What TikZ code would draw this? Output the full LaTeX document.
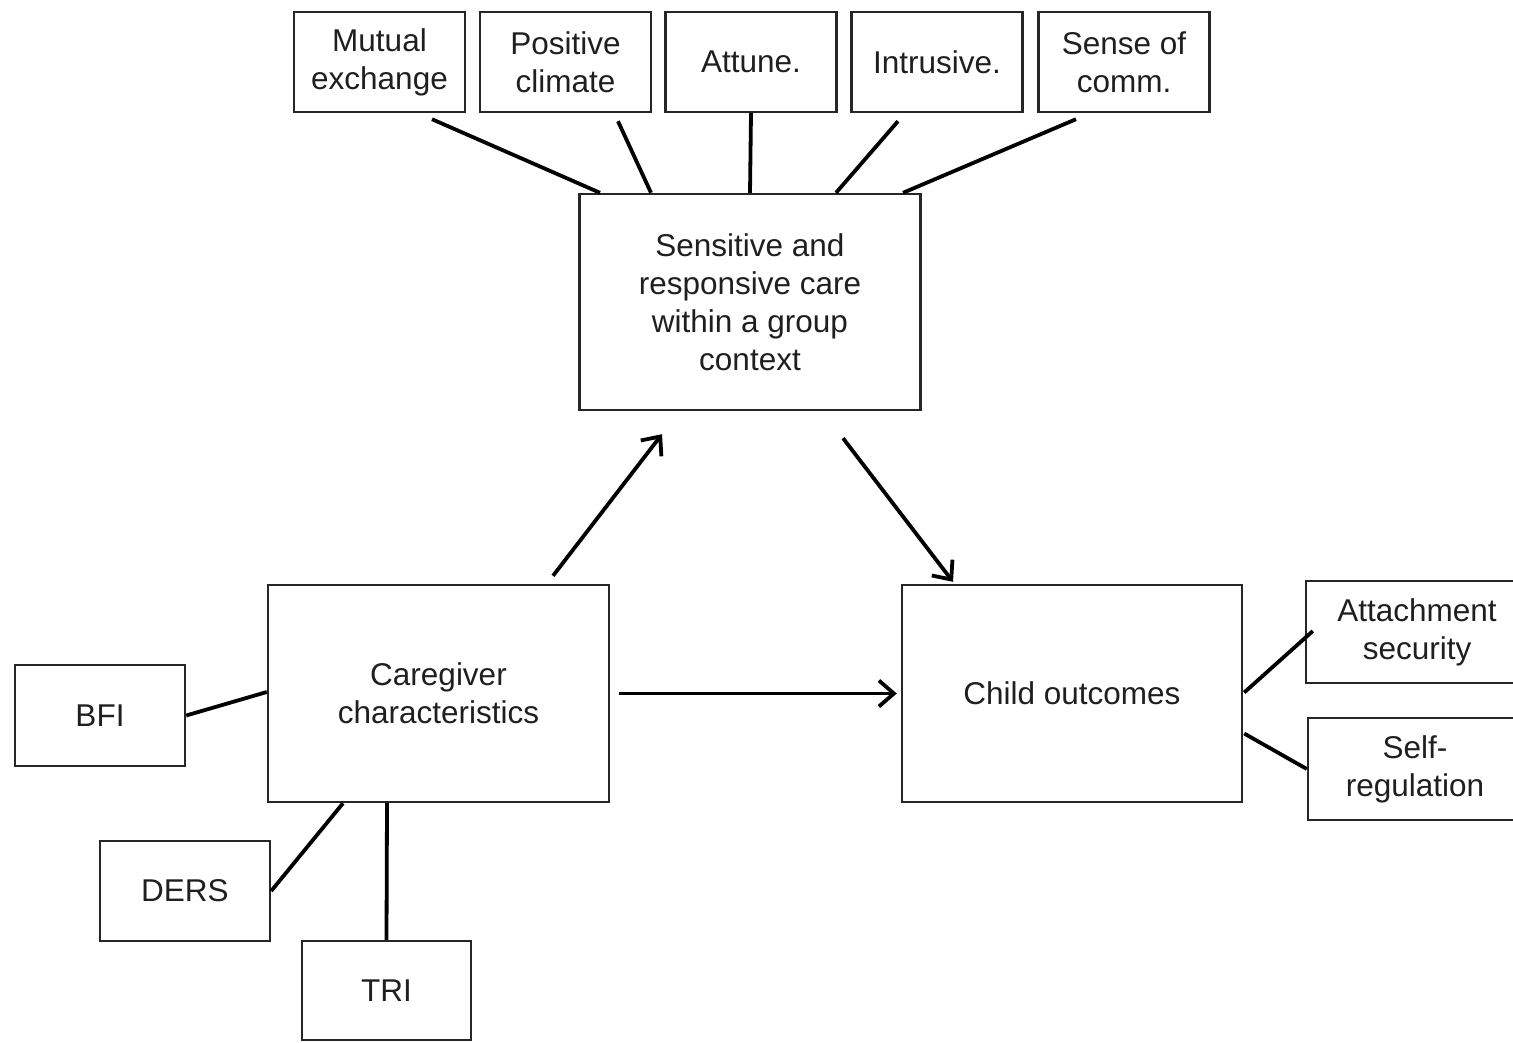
\documentclass[tikz,border=0pt]{standalone}
\usepackage{fontspec}
\setmainfont{Liberation Sans}
\usetikzlibrary{arrows.meta}
\tikzset{
  box/.style={draw=black!85, line width=2.4pt, inner sep=0pt, align=center,
    font=\fontsize{31.5}{38}\selectfont, text=black!88},
  small/.style={box, minimum width=171pt, minimum height=100pt},
  big/.style={box, minimum width=341pt, minimum height=217pt},
  link/.style={line width=3.8pt, black},
  arr/.style={line width=3.8pt, black, -{Straight Barb[length=15pt,width=26pt,line width=3.8pt]}}
}
\begin{document}
\begin{tikzpicture}[x=1pt,y=-1pt]
\useasboundingbox (0,0) rectangle (1513,1042);
\clip (0,0) rectangle (1513,1042);
% top measures
\node[small] (mutual) at (379.5,62) {Mutual\\exchange};
\node[small] (positive) at (565.5,62) {Positive\\climate};
\node[small] (attune) at (751,62) {Attune.};
\node[small] (intrusive) at (937,62) {Intrusive.};
\node[small] (sense) at (1124,62) {Sense of\\comm.};
% main constructs
\node[big, minimum height=216pt] (sens) at (750,302) {Sensitive and\\responsive care\\within a group\\context};
\node[big] (care) at (438.5,693.5) {Caregiver\\characteristics};
\node[big, minimum width=340pt] (child) at (1072,693.5) {Child outcomes};
% caregiver measures
\node[small, minimum width=170pt, minimum height=101pt] (bfi) at (100,715.5) {BFI};
\node[small, minimum width=170pt] (ders) at (185,891) {DERS};
\node[small, minimum width=169pt, minimum height=99pt] (tri) at (386.5,990.5) {TRI};
% child measures
\node[small, minimum width=222pt, minimum height=102pt] (attach) at (1417,632) {Attachment\\security};
\node[small, minimum width=214pt, minimum height=102pt] (self) at (1415,769) {Self-\\regulation};
% links top
\draw[link] ([shift={(52.5,6)}]mutual.south) -- ([shift={(-150,0)}]sens.north);
\draw[link] ([shift={(52.5,8)}]positive.south) -- ([shift={(-99,0)}]sens.north);
\draw[link] (attune.south) -- (sens.north);
\draw[link] ([shift={(-39,8)}]intrusive.south) -- ([shift={(86,0)}]sens.north);
\draw[link] ([shift={(-48,6)}]sense.south) -- ([shift={(153,0)}]sens.north);
% arrows
\draw[arr] ([shift={(114.5,-8)}]care.north) -- ([shift={(-88,23)}]sens.south);
\draw[arr] ([shift={(93,27)}]sens.south) -- ([shift={(-119,-2)}]child.north);
\draw[arr] ([shift={(9,0)}]care.east) -- ([shift={(-4,0)}]child.west);
% caregiver measures links
\draw[link] (bfi.east) -- ([shift={(0,-1.5)}]care.west);
\draw[link] (ders.east) -- ([shift={(-95.5,0)}]care.south);
\draw[link] (tri.north) -- ([shift={(-51.5,0)}]care.south);
% child measures links
\draw[link] ([shift={(1,-1)}]child.east) -- ([shift={(8,-1)}]attach.west);
\draw[link] ([shift={(1,40)}]child.east) -- (self.west);
\end{tikzpicture}
\end{document}
